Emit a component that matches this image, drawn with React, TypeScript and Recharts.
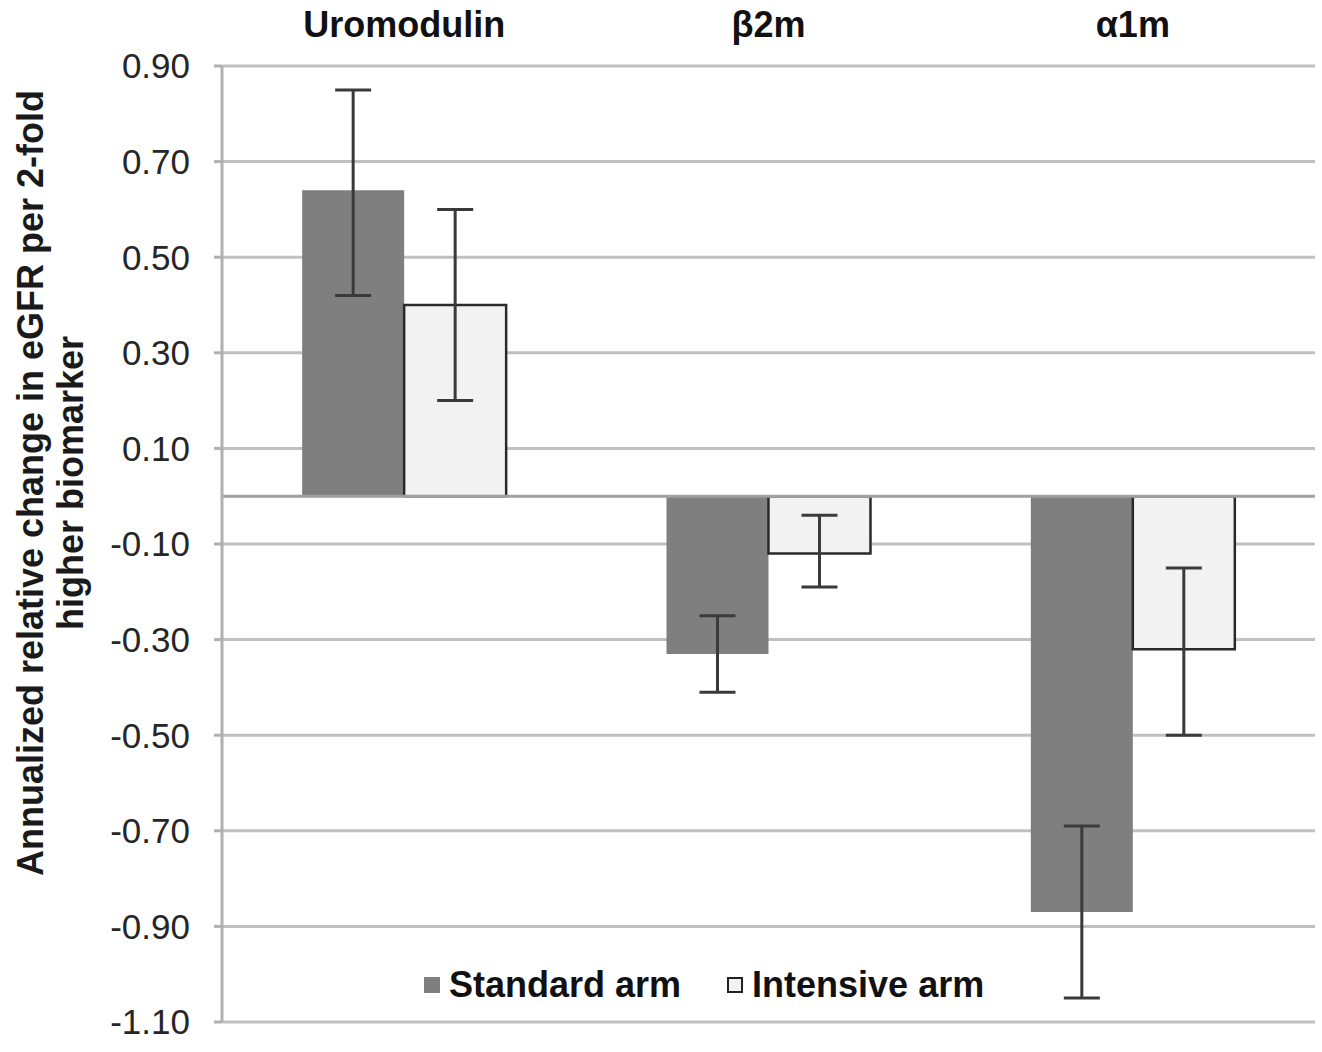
import { BarChart, Bar, XAxis, YAxis, CartesianGrid, ErrorBar, ReferenceLine, Legend } from 'recharts';

const categories = ['Uromodulin', 'β2m', 'α1m'];
const standardArm = [0.64, -0.33, -0.87];
const standardErr: [number, number][] = [[0.22, 0.21], [0.08, 0.08], [0.18, 0.18]];
const intensiveArm = [0.40, -0.12, -0.32];
const intensiveErr: [number, number][] = [[0.2, 0.2], [0.07, 0.08], [0.18, 0.17]];
const yTicks = [0.9, 0.7, 0.5, 0.3, 0.1, -0.1, -0.3, -0.5, -0.7, -0.9, -1.1];

const data = categories.map((name, i) => ({
  name,
  standard: standardArm[i],
  standardErr: standardErr[i],
  intensive: intensiveArm[i],
  intensiveErr: intensiveErr[i],
}));

const FONT = '"Liberation Sans", Arial, sans-serif';
const STD_FILL = '#7f7f7f';
const INT_FILL = '#f2f2f2';

function YLabel(props: any) {
  const vb = props.viewBox || { x: 0, y: 0, height: 0 };
  const cy = vb.y + vb.height / 2 - 61;
  return (
    <g fontFamily={FONT} fontWeight="bold" fontSize={36} fill="#1a1a1a">
      <text transform={`translate(43, ${cy}) rotate(-90)`} textAnchor="middle">
        Annualized relative change in eGFR per 2-fold
      </text>
      <text transform={`translate(83, ${cy}) rotate(-90)`} textAnchor="middle">
        higher biomarker
      </text>
    </g>
  );
}

function LegendContent() {
  const item = (fill: string, label: string, stroke?: string) => (
    <div style={{ display: 'flex', alignItems: 'center', marginRight: 46 }}>
      <div
        style={{
          width: 16,
          height: 16,
          background: fill,
          border: stroke ? `2px solid ${stroke}` : 'none',
          boxSizing: 'border-box',
          marginRight: 9,
        }}
      />
      <span style={{ fontFamily: FONT, fontWeight: 'bold', fontSize: 36, color: '#111' }}>{label}</span>
    </div>
  );
  return (
    <div style={{ display: 'flex', alignItems: 'center' }}>
      {item(STD_FILL, 'Standard arm')}
      {item(INT_FILL, 'Intensive arm', '#222')}
    </div>
  );
}

export default function App() {
  return (
    <div style={{ position: 'absolute', left: 0, top: 0, background: '#fff' }}>
      <BarChart
        width={1322}
        height={1052}
        data={data}
        margin={{ top: 26, right: 7, bottom: 30, left: 0 }}
        barCategoryGap="22%"
        barGap={0}
      >
        <CartesianGrid horizontal vertical={false} stroke="#c0c0c0" strokeWidth={3} />
        <XAxis
          dataKey="name"
          orientation="top"
          height={40}
          axisLine={false}
          tickLine={false}
          tickMargin={23}
          tick={{ fontFamily: FONT, fontWeight: 'bold', fontSize: 36, fill: '#111' }}
        />
        <YAxis
          width={222}
          domain={[-1.1, 0.9]}
          ticks={yTicks}
          interval={0}
          tickFormatter={(v: number) => v.toFixed(2)}
          axisLine={{ stroke: '#b0b0b0', strokeWidth: 3 }}
          tickLine={{ stroke: '#b0b0b0', strokeWidth: 3 }}
          tickSize={8}
          tickMargin={24}
          tick={{ fontFamily: FONT, fontSize: 35, fill: '#262626' }}
          label={{ content: YLabel }}
        />
        <ReferenceLine y={0} stroke="#a0a0a0" strokeWidth={3} />
        <Legend
          layout="vertical"
          align="center"
          verticalAlign="middle"
          wrapperStyle={{ top: 964, left: 424, width: 640 }}
          content={LegendContent}
        />
        <Bar dataKey="standard" name="Standard arm" fill={STD_FILL} isAnimationActive={false}>
          <ErrorBar dataKey="standardErr" width={18} stroke="#3a3a3a" strokeWidth={3} direction="y" />
        </Bar>
        <Bar dataKey="intensive" name="Intensive arm" fill={INT_FILL} stroke="#2a2a2a" strokeWidth={2.5} isAnimationActive={false}>
          <ErrorBar dataKey="intensiveErr" width={18} stroke="#3a3a3a" strokeWidth={3} direction="y" />
        </Bar>
      </BarChart>
    </div>
  );
}
